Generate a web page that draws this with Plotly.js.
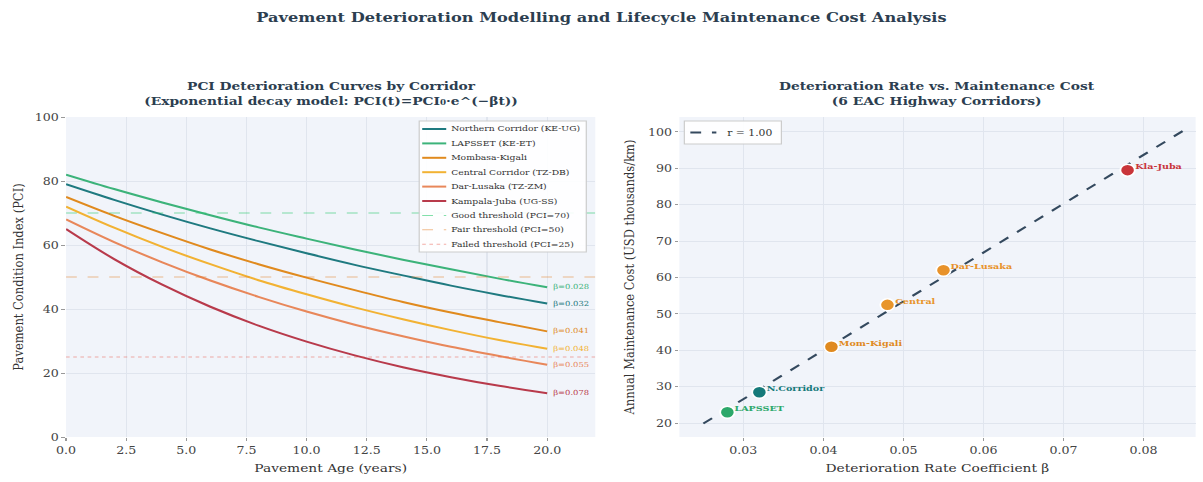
<!DOCTYPE html>
<html>
<head>
<meta charset="utf-8">
<script src="https://cdn.plot.ly/plotly-3.0.1.min.js"></script>
<style>
html,body{margin:0;padding:0;background:#fff;overflow:hidden;width:1203px;height:482px;}
#wrap{width:1203px;height:482px;overflow:hidden;}
#chart{transform-origin:0 0;}
</style>
</head>
<body>
<div id="wrap"><div id="chart"></div></div>
<script>
// ---- Data ----
const corridors = ["Northern Corridor (KE-UG)", "LAPSSET (KE-ET)", "Mombasa-Kigali", "Central Corridor (TZ-DB)", "Dar-Lusaka (TZ-ZM)", "Kampala-Juba (UG-SS)"];
const shortNames = ["N.Corridor", "LAPSSET", "Mom-Kigali", "Central", "Dar-Lusaka", "Kla-Juba"];
const betas = [0.032, 0.028, 0.041, 0.048, 0.055, 0.078];
const costs = [28.5, 23, 41, 52.5, 62, 89.5];
const ageYears = [0, 2, 4, 6, 8, 10, 12, 14, 16, 18, 20];
const pciNorthern = [79, 74.1, 69.5, 65.2, 61.2, 57.4, 53.8, 50.5, 47.3, 44.4, 41.7];
const pciLapsset  = [82, 77.5, 73.3, 69.3, 65.5, 62.0, 58.6, 55.4, 52.4, 49.5, 46.8];
const pciMombasa  = [75, 69.1, 63.7, 58.6, 54.0, 49.8, 45.9, 42.2, 38.9, 35.9, 33.0];
const pciCentral  = [72, 65.4, 59.4, 54.0, 49.0, 44.6, 40.5, 36.8, 33.4, 30.3, 27.6];
const pciDar      = [68, 60.9, 54.6, 48.9, 43.8, 39.2, 35.1, 31.5, 28.2, 25.3, 22.6];
const pciKampala  = [65, 55.6, 47.6, 40.7, 34.8, 29.8, 25.5, 21.8, 18.7, 16.0, 13.7];
const thresholdNames = ["Good threshold (PCI=70)", "Fair threshold (PCI=50)", "Failed threshold (PCI=25)"];
const thresholdValues = [70, 50, 25];
const fitBeta = [0.025, 0.085];
const fitCost = [19.9, 100.4];
const fitLabel = "r = 1.00";

// ---- Styles ----
const colors = ["#1f7a80", "#3cb37a", "#e08a1e", "#f2b233", "#e8875a", "#b83a4b"];
const markerColors = ["#167a7a", "#2ca86a", "#e08a1f", "#e8952a", "#e8922a", "#c9353a"];
const thrColors = ["rgba(46,204,113,0.6)", "rgba(230,126,34,0.5)", "rgba(231,76,60,0.45)"];
const thrDash = ["dash", "dash", "dot"];
const pciSeries = [pciNorthern, pciLapsset, pciMombasa, pciCentral, pciDar, pciKampala];
const FONT = "DejaVu Serif, serif";
const xRangeLeft = [0, 22];

// page is 1203x482; the chart is drawn narrower and stretched horizontally
const PAGE_W = 1203, PAGE_H = 482, STRETCH = 1.2;
const W = PAGE_W / STRETCH;
document.getElementById("chart").style.transform = "scale(" + STRETCH + ",1)";
const px = v => v / PAGE_W;          // page pixel -> paper x
const py = v => 1 - v / PAGE_H;      // page pixel -> paper y

const traces = [];
pciSeries.forEach((s, i) => {
  traces.push({
    x: ageYears, y: s, type: "scatter", mode: "lines", name: corridors[i],
    line: {color: colors[i], width: 2, shape: "spline"}, xaxis: "x", yaxis: "y"
  });
});
thresholdValues.forEach((v, i) => {
  traces.push({
    x: xRangeLeft, y: [v, v], type: "scatter", mode: "lines", name: thresholdNames[i],
    line: {color: thrColors[i], width: 1, dash: thrDash[i]}, xaxis: "x", yaxis: "y"
  });
});
traces.push({
  x: fitBeta, y: fitCost, type: "scatter", mode: "lines", name: fitLabel,
  line: {color: "#34495e", width: 2, dash: "dash"}, xaxis: "x2", yaxis: "y2"
});
traces.push({
  x: betas, y: costs, type: "scatter", mode: "markers",
  marker: {color: markerColors, size: 12, line: {color: "#ffffff", width: 1.5}},
  xaxis: "x2", yaxis: "y2"
});

const annotations = [];
const shapes = [];
pciSeries.forEach((s, i) => {
  annotations.push({
    x: ageYears[ageYears.length - 1], y: s[s.length - 1], xref: "x", yref: "y",
    text: "β=" + betas[i].toFixed(3), showarrow: false, xanchor: "left", xshift: 3,
    font: {family: FONT, size: 7, color: colors[i]}
  });
});
betas.forEach((b, i) => {
  annotations.push({
    x: b, y: costs[i], xref: "x2", yref: "y2", text: "<b>" + shortNames[i] + "</b>",
    showarrow: false, xanchor: "left", yanchor: "bottom", xshift: 4, yshift: -3,
    font: {family: FONT, size: 8, color: markerColors[i]}
  });
});
// subplot titles
annotations.push({
  text: "<b>PCI Deterioration Curves by Corridor<br>(Exponential decay model: PCI(t)=PCI₀·e^(−βt))</b>",
  xref: "paper", yref: "paper", x: (px(66) + px(595)) / 2, y: py(110), xanchor: "center", yanchor: "bottom",
  showarrow: false, font: {family: FONT, size: 11.5, color: "#2c3e50"}
});
annotations.push({
  text: "<b>Deterioration Rate vs. Maintenance Cost<br>(6 EAC Highway Corridors)</b>",
  xref: "paper", yref: "paper", x: (px(679) + px(1195)) / 2, y: py(110), xanchor: "center", yanchor: "bottom",
  showarrow: false, font: {family: FONT, size: 11.5, color: "#2c3e50"}
});

// ---- custom legends (drawn in paper space) ----
const legBox = {color: "#cccccc", width: 1};
shapes.push({type: "rect", xref: "paper", yref: "paper", x0: px(419), x1: px(586), y0: py(252), y1: py(121),
  fillcolor: "rgba(255,255,255,0.9)", line: legBox, layer: "above"});
const legNames = corridors.concat(thresholdNames);
const legColors = colors.concat(thrColors);
const legDash = colors.map(() => "solid").concat(thrDash);
const legWidth = colors.map(() => 2).concat(thrColors.map(() => 1));
legNames.forEach((n, i) => {
  const yy = 129 + 14.4 * i;
  shapes.push({type: "line", xref: "paper", yref: "paper", x0: px(422), x1: px(446), y0: py(yy), y1: py(yy),
    line: {color: legColors[i], width: legWidth[i], dash: legDash[i]}, layer: "above"});
  annotations.push({text: n, xref: "paper", yref: "paper", x: px(449), y: py(yy), xanchor: "left", yanchor: "middle",
    showarrow: false, font: {family: FONT, size: 7.7, color: "#333"}});
});
shapes.push({type: "rect", xref: "paper", yref: "paper", x0: px(684), x1: px(781), y0: py(144), y1: py(121),
  fillcolor: "rgba(255,255,255,0.9)", line: legBox, layer: "above"});
shapes.push({type: "line", xref: "paper", yref: "paper", x0: px(690), x1: px(716), y0: py(132.5), y1: py(132.5),
  line: {color: "#34495e", width: 2, dash: "dash"}, layer: "above"});
annotations.push({text: fitLabel, xref: "paper", yref: "paper", x: px(724), y: py(132.5), xanchor: "left", yanchor: "middle",
  showarrow: false, font: {family: FONT, size: 9, color: "#333"}});

const axisCommon = {
  showline: false, zeroline: false, gridcolor: "#e0e5ee", gridwidth: 1,
  ticks: "outside", ticklen: 3, tickcolor: "#999", tickwidth: 1,
  tickfont: {family: FONT, size: 10.5, color: "#444"}
};
const titleFont = {family: FONT, size: 11.5, color: "#333"};

const layout = {
  width: W, height: PAGE_H,
  margin: {l: 0, r: 0, t: 0, b: 0},
  paper_bgcolor: "#ffffff", plot_bgcolor: "#f1f4fa",
  font: {family: FONT, color: "#333"},
  showlegend: false,
  title: {text: "<b>Pavement Deterioration Modelling and Lifecycle Maintenance Cost Analysis</b>",
          x: 0.5, xanchor: "center", y: py(17), yanchor: "middle",
          font: {family: FONT, size: 13.5, color: "#2c3e50"}},
  xaxis: Object.assign({}, axisCommon, {
    domain: [px(66), px(595)], range: xRangeLeft, dtick: 2.5, tick0: 0, tickformat: ".1f",
    title: {text: "Pavement Age (years)", font: titleFont, standoff: 9}
  }),
  yaxis: Object.assign({}, axisCommon, {
    domain: [py(437), py(117)], range: [0, 100], dtick: 20,
    title: {text: "Pavement Condition Index (PCI)", font: titleFont, standoff: 6}
  }),
  xaxis2: Object.assign({}, axisCommon, {
    domain: [px(679), px(1195)], range: [0.022, 0.0865], dtick: 0.01, tick0: 0, tickformat: ".2f", anchor: "y2",
    title: {text: "Deterioration Rate Coefficient β", font: titleFont, standoff: 9}
  }),
  yaxis2: Object.assign({}, axisCommon, {
    domain: [py(437), py(117)], range: [16.2, 104.1], dtick: 10, anchor: "x2",
    title: {text: "Annual Maintenance Cost (USD thousands/km)", font: titleFont, standoff: 8}
  }),
  annotations: annotations,
  shapes: shapes
};

Plotly.newPlot("chart", traces, layout, {displayModeBar: false, responsive: false});
</script>
</body>
</html>
